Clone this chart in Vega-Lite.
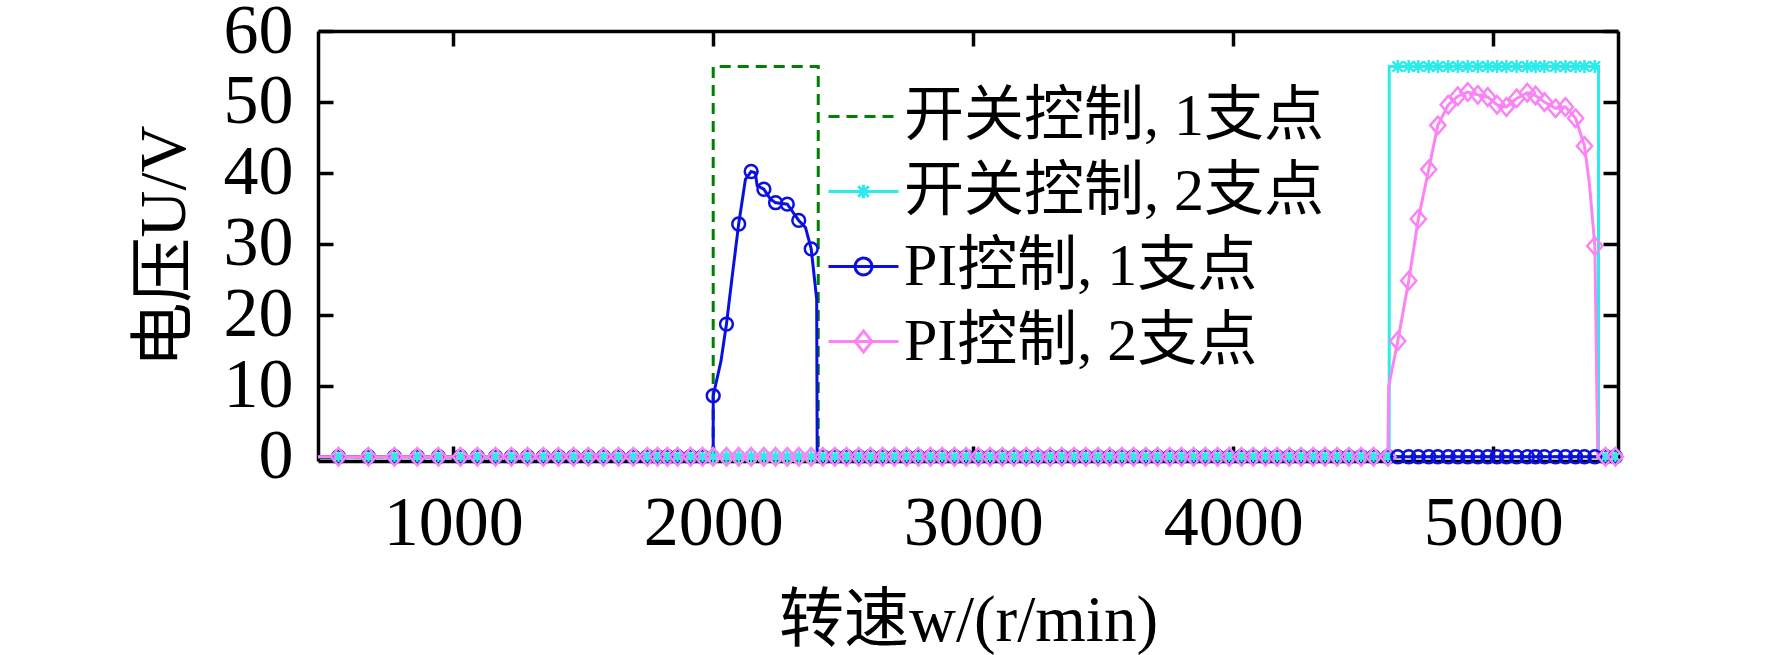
{
  "$schema": "https://vega.github.io/schema/vega-lite/v6.json",
  "width": 1300,
  "height": 430,
  "autosize": "none",
  "padding": {"left": 318, "top": 31, "right": 154, "bottom": 194},
  "background": "white",
  "config": {"view": {"stroke": null}, "font": "Liberation Serif"},
  "datasets": {
    "lines": [
      {"s": "开关控制, 1支点", "w": 480, "u": 0},
      {"s": "开关控制, 1支点", "w": 2000, "u": 0},
      {"s": "开关控制, 1支点", "w": 2000, "u": 55},
      {"s": "开关控制, 1支点", "w": 2404, "u": 55},
      {"s": "开关控制, 1支点", "w": 2404, "u": 0},
      {"s": "开关控制, 1支点", "w": 5480, "u": 0},
      {"s": "开关控制, 2支点", "w": 480, "u": 0},
      {"s": "开关控制, 2支点", "w": 4600, "u": 0},
      {"s": "开关控制, 2支点", "w": 4600, "u": 55},
      {"s": "开关控制, 2支点", "w": 5405, "u": 55},
      {"s": "开关控制, 2支点", "w": 5405, "u": 0},
      {"s": "开关控制, 2支点", "w": 5480, "u": 0},
      {"s": "PI控制, 1支点", "w": 480, "u": 0},
      {"s": "PI控制, 1支点", "w": 2000, "u": 0},
      {"s": "PI控制, 1支点", "w": 2000, "u": 8.6},
      {"s": "PI控制, 1支点", "w": 2030, "u": 13.5},
      {"s": "PI控制, 1支点", "w": 2051, "u": 18.7},
      {"s": "PI控制, 1支点", "w": 2073, "u": 25.4},
      {"s": "PI控制, 1支点", "w": 2098, "u": 32.8},
      {"s": "PI控制, 1支点", "w": 2124, "u": 39.1},
      {"s": "PI控制, 1支点", "w": 2146, "u": 40.2},
      {"s": "PI控制, 1支点", "w": 2162, "u": 40.0},
      {"s": "PI控制, 1支点", "w": 2169, "u": 38.2},
      {"s": "PI控制, 1支点", "w": 2195, "u": 37.7},
      {"s": "PI控制, 1支点", "w": 2220, "u": 36.3},
      {"s": "PI控制, 1支点", "w": 2240, "u": 35.8},
      {"s": "PI控制, 1支点", "w": 2285, "u": 35.6},
      {"s": "PI控制, 1支点", "w": 2329, "u": 33.3},
      {"s": "PI控制, 1支点", "w": 2355, "u": 32.3},
      {"s": "PI控制, 1支点", "w": 2377, "u": 29.3},
      {"s": "PI控制, 1支点", "w": 2398, "u": 22.2},
      {"s": "PI控制, 1支点", "w": 2400, "u": 0},
      {"s": "PI控制, 1支点", "w": 5480, "u": 0},
      {"s": "PI控制, 2支点", "w": 480, "u": 0},
      {"s": "PI控制, 2支点", "w": 4595, "u": 0},
      {"s": "PI控制, 2支点", "w": 4598, "u": 9.9},
      {"s": "PI控制, 2支点", "w": 4633, "u": 16.3},
      {"s": "PI控制, 2支点", "w": 4675, "u": 24.8},
      {"s": "PI控制, 2支点", "w": 4712, "u": 33.5},
      {"s": "PI控制, 2支点", "w": 4752, "u": 40.5},
      {"s": "PI控制, 2支点", "w": 4787, "u": 46.7},
      {"s": "PI控制, 2支点", "w": 4827, "u": 49.6},
      {"s": "PI控制, 2支点", "w": 4864, "u": 50.8},
      {"s": "PI控制, 2支点", "w": 4902, "u": 51.4},
      {"s": "PI控制, 2支点", "w": 4941, "u": 51.0},
      {"s": "PI控制, 2支点", "w": 4979, "u": 50.7},
      {"s": "PI控制, 2支点", "w": 5015, "u": 49.6},
      {"s": "PI控制, 2支点", "w": 5051, "u": 49.3},
      {"s": "PI控制, 2支点", "w": 5090, "u": 50.5},
      {"s": "PI控制, 2支点", "w": 5131, "u": 51.3},
      {"s": "PI控制, 2支点", "w": 5163, "u": 50.9},
      {"s": "PI控制, 2支点", "w": 5197, "u": 50.0},
      {"s": "PI控制, 2支点", "w": 5240, "u": 49.1},
      {"s": "PI控制, 2支点", "w": 5278, "u": 49.3},
      {"s": "PI控制, 2支点", "w": 5317, "u": 47.7},
      {"s": "PI控制, 2支点", "w": 5351, "u": 43.8},
      {"s": "PI控制, 2支点", "w": 5370, "u": 38.5},
      {"s": "PI控制, 2支点", "w": 5391, "u": 29.7},
      {"s": "PI控制, 2支点", "w": 5402, "u": 0},
      {"s": "PI控制, 2支点", "w": 5480, "u": 0}
    ],
    "markers": [
      {"w": 559, "开关控制, 2支点": 0, "PI控制, 1支点": 0, "PI控制, 2支点": 0},
      {"w": 674, "开关控制, 2支点": 0, "PI控制, 1支点": 0, "PI控制, 2支点": 0},
      {"w": 774, "开关控制, 2支点": 0, "PI控制, 1支点": 0, "PI控制, 2支点": 0},
      {"w": 862, "开关控制, 2支点": 0, "PI控制, 1支点": 0, "PI控制, 2支点": 0},
      {"w": 943, "开关控制, 2支点": 0, "PI控制, 1支点": 0, "PI控制, 2支点": 0},
      {"w": 1028, "开关控制, 2支点": 0, "PI控制, 1支点": 0, "PI控制, 2支点": 0},
      {"w": 1093, "开关控制, 2支点": 0, "PI控制, 1支点": 0, "PI控制, 2支点": 0},
      {"w": 1163, "开关控制, 2支点": 0, "PI控制, 1支点": 0, "PI控制, 2支点": 0},
      {"w": 1224, "开关控制, 2支点": 0, "PI控制, 1支点": 0, "PI控制, 2支点": 0},
      {"w": 1286, "开关控制, 2支点": 0, "PI控制, 1支点": 0, "PI控制, 2支点": 0},
      {"w": 1347, "开关控制, 2支点": 0, "PI控制, 1支点": 0, "PI控制, 2支点": 0},
      {"w": 1405, "开关控制, 2支点": 0, "PI控制, 1支点": 0, "PI控制, 2支点": 0},
      {"w": 1463, "开关控制, 2支点": 0, "PI控制, 1支点": 0, "PI控制, 2支点": 0},
      {"w": 1520, "开关控制, 2支点": 0, "PI控制, 1支点": 0, "PI控制, 2支点": 0},
      {"w": 1578, "开关控制, 2支点": 0, "PI控制, 1支点": 0, "PI控制, 2支点": 0},
      {"w": 1636, "开关控制, 2支点": 0, "PI控制, 1支点": 0, "PI控制, 2支点": 0},
      {"w": 1693, "开关控制, 2支点": 0, "PI控制, 1支点": 0, "PI控制, 2支点": 0},
      {"w": 1747, "开关控制, 2支点": 0, "PI控制, 1支点": 0, "PI控制, 2支点": 0},
      {"w": 1786, "开关控制, 2支点": 0, "PI控制, 1支点": 0, "PI控制, 2支点": 0},
      {"w": 1824, "开关控制, 2支点": 0, "PI控制, 1支点": 0, "PI控制, 2支点": 0},
      {"w": 1863, "开关控制, 2支点": 0, "PI控制, 1支点": 0, "PI控制, 2支点": 0},
      {"w": 1913, "开关控制, 2支点": 0, "PI控制, 1支点": 0, "PI控制, 2支点": 0},
      {"w": 1959, "开关控制, 2支点": 0, "PI控制, 1支点": 0, "PI控制, 2支点": 0},
      {"w": 2000, "开关控制, 2支点": 0, "PI控制, 1支点": 8.6, "PI控制, 2支点": 0},
      {"w": 2051, "开关控制, 2支点": 0, "PI控制, 1支点": 18.7, "PI控制, 2支点": 0},
      {"w": 2098, "开关控制, 2支点": 0, "PI控制, 1支点": 32.8, "PI控制, 2支点": 0},
      {"w": 2146, "开关控制, 2支点": 0, "PI控制, 1支点": 40.2, "PI控制, 2支点": 0},
      {"w": 2195, "开关控制, 2支点": 0, "PI控制, 1支点": 37.7, "PI控制, 2支点": 0},
      {"w": 2240, "开关控制, 2支点": 0, "PI控制, 1支点": 35.8, "PI控制, 2支点": 0},
      {"w": 2285, "开关控制, 2支点": 0, "PI控制, 1支点": 35.6, "PI控制, 2支点": 0},
      {"w": 2329, "开关控制, 2支点": 0, "PI控制, 1支点": 33.3, "PI控制, 2支点": 0},
      {"w": 2377, "开关控制, 2支点": 0, "PI控制, 1支点": 29.3, "PI控制, 2支点": 0},
      {"w": 2422, "开关控制, 2支点": 0, "PI控制, 1支点": 0, "PI控制, 2支点": 0},
      {"w": 2468, "开关控制, 2支点": 0, "PI控制, 1支点": 0, "PI控制, 2支点": 0},
      {"w": 2513, "开关控制, 2支点": 0, "PI控制, 1支点": 0, "PI控制, 2支点": 0},
      {"w": 2560, "开关控制, 2支点": 0, "PI控制, 1支点": 0, "PI控制, 2支点": 0},
      {"w": 2605, "开关控制, 2支点": 0, "PI控制, 1支点": 0, "PI控制, 2支点": 0},
      {"w": 2652, "开关控制, 2支点": 0, "PI控制, 1支点": 0, "PI控制, 2支点": 0},
      {"w": 2697, "开关控制, 2支点": 0, "PI控制, 1支点": 0, "PI控制, 2支点": 0},
      {"w": 2744, "开关控制, 2支点": 0, "PI控制, 1支点": 0, "PI控制, 2支点": 0},
      {"w": 2789, "开关控制, 2支点": 0, "PI控制, 1支点": 0, "PI控制, 2支点": 0},
      {"w": 2836, "开关控制, 2支点": 0, "PI控制, 1支点": 0, "PI控制, 2支点": 0},
      {"w": 2881, "开关控制, 2支点": 0, "PI控制, 1支点": 0, "PI控制, 2支点": 0},
      {"w": 2928, "开关控制, 2支点": 0, "PI控制, 1支点": 0, "PI控制, 2支点": 0},
      {"w": 2973, "开关控制, 2支点": 0, "PI控制, 1支点": 0, "PI控制, 2支点": 0},
      {"w": 3020, "开关控制, 2支点": 0, "PI控制, 1支点": 0, "PI控制, 2支点": 0},
      {"w": 3065, "开关控制, 2支点": 0, "PI控制, 1支点": 0, "PI控制, 2支点": 0},
      {"w": 3112, "开关控制, 2支点": 0, "PI控制, 1支点": 0, "PI控制, 2支点": 0},
      {"w": 3157, "开关控制, 2支点": 0, "PI控制, 1支点": 0, "PI控制, 2支点": 0},
      {"w": 3204, "开关控制, 2支点": 0, "PI控制, 1支点": 0, "PI控制, 2支点": 0},
      {"w": 3249, "开关控制, 2支点": 0, "PI控制, 1支点": 0, "PI控制, 2支点": 0},
      {"w": 3296, "开关控制, 2支点": 0, "PI控制, 1支点": 0, "PI控制, 2支点": 0},
      {"w": 3341, "开关控制, 2支点": 0, "PI控制, 1支点": 0, "PI控制, 2支点": 0},
      {"w": 3388, "开关控制, 2支点": 0, "PI控制, 1支点": 0, "PI控制, 2支点": 0},
      {"w": 3433, "开关控制, 2支点": 0, "PI控制, 1支点": 0, "PI控制, 2支点": 0},
      {"w": 3480, "开关控制, 2支点": 0, "PI控制, 1支点": 0, "PI控制, 2支点": 0},
      {"w": 3525, "开关控制, 2支点": 0, "PI控制, 1支点": 0, "PI控制, 2支点": 0},
      {"w": 3572, "开关控制, 2支点": 0, "PI控制, 1支点": 0, "PI控制, 2支点": 0},
      {"w": 3617, "开关控制, 2支点": 0, "PI控制, 1支点": 0, "PI控制, 2支点": 0},
      {"w": 3664, "开关控制, 2支点": 0, "PI控制, 1支点": 0, "PI控制, 2支点": 0},
      {"w": 3709, "开关控制, 2支点": 0, "PI控制, 1支点": 0, "PI控制, 2支点": 0},
      {"w": 3756, "开关控制, 2支点": 0, "PI控制, 1支点": 0, "PI控制, 2支点": 0},
      {"w": 3801, "开关控制, 2支点": 0, "PI控制, 1支点": 0, "PI控制, 2支点": 0},
      {"w": 3848, "开关控制, 2支点": 0, "PI控制, 1支点": 0, "PI控制, 2支点": 0},
      {"w": 3893, "开关控制, 2支点": 0, "PI控制, 1支点": 0, "PI控制, 2支点": 0},
      {"w": 3940, "开关控制, 2支点": 0, "PI控制, 1支点": 0, "PI控制, 2支点": 0},
      {"w": 3985, "开关控制, 2支点": 0, "PI控制, 1支点": 0, "PI控制, 2支点": 0},
      {"w": 4032, "开关控制, 2支点": 0, "PI控制, 1支点": 0, "PI控制, 2支点": 0},
      {"w": 4077, "开关控制, 2支点": 0, "PI控制, 1支点": 0, "PI控制, 2支点": 0},
      {"w": 4124, "开关控制, 2支点": 0, "PI控制, 1支点": 0, "PI控制, 2支点": 0},
      {"w": 4169, "开关控制, 2支点": 0, "PI控制, 1支点": 0, "PI控制, 2支点": 0},
      {"w": 4216, "开关控制, 2支点": 0, "PI控制, 1支点": 0, "PI控制, 2支点": 0},
      {"w": 4261, "开关控制, 2支点": 0, "PI控制, 1支点": 0, "PI控制, 2支点": 0},
      {"w": 4308, "开关控制, 2支点": 0, "PI控制, 1支点": 0, "PI控制, 2支点": 0},
      {"w": 4353, "开关控制, 2支点": 0, "PI控制, 1支点": 0, "PI控制, 2支点": 0},
      {"w": 4400, "开关控制, 2支点": 0, "PI控制, 1支点": 0, "PI控制, 2支点": 0},
      {"w": 4445, "开关控制, 2支点": 0, "PI控制, 1支点": 0, "PI控制, 2支点": 0},
      {"w": 4492, "开关控制, 2支点": 0, "PI控制, 1支点": 0, "PI控制, 2支点": 0},
      {"w": 4540, "开关控制, 2支点": 0, "PI控制, 1支点": 0, "PI控制, 2支点": 0},
      {"w": 4595, "开关控制, 2支点": 0, "PI控制, 1支点": 0, "PI控制, 2支点": 0},
      {"w": 4633, "开关控制, 2支点": 55, "PI控制, 1支点": 0, "PI控制, 2支点": 16.3},
      {"w": 4675, "开关控制, 2支点": 55, "PI控制, 1支点": 0, "PI控制, 2支点": 24.8},
      {"w": 4712, "开关控制, 2支点": 55, "PI控制, 1支点": 0, "PI控制, 2支点": 33.5},
      {"w": 4752, "开关控制, 2支点": 55, "PI控制, 1支点": 0, "PI控制, 2支点": 40.5},
      {"w": 4787, "开关控制, 2支点": 55, "PI控制, 1支点": 0, "PI控制, 2支点": 46.7},
      {"w": 4827, "开关控制, 2支点": 55, "PI控制, 1支点": 0, "PI控制, 2支点": 49.6},
      {"w": 4864, "开关控制, 2支点": 55, "PI控制, 1支点": 0, "PI控制, 2支点": 50.8},
      {"w": 4902, "开关控制, 2支点": 55, "PI控制, 1支点": 0, "PI控制, 2支点": 51.4},
      {"w": 4941, "开关控制, 2支点": 55, "PI控制, 1支点": 0, "PI控制, 2支点": 51.0},
      {"w": 4979, "开关控制, 2支点": 55, "PI控制, 1支点": 0, "PI控制, 2支点": 50.7},
      {"w": 5015, "开关控制, 2支点": 55, "PI控制, 1支点": 0, "PI控制, 2支点": 49.6},
      {"w": 5051, "开关控制, 2支点": 55, "PI控制, 1支点": 0, "PI控制, 2支点": 49.3},
      {"w": 5090, "开关控制, 2支点": 55, "PI控制, 1支点": 0, "PI控制, 2支点": 50.5},
      {"w": 5131, "开关控制, 2支点": 55, "PI控制, 1支点": 0, "PI控制, 2支点": 51.3},
      {"w": 5163, "开关控制, 2支点": 55, "PI控制, 1支点": 0, "PI控制, 2支点": 50.9},
      {"w": 5197, "开关控制, 2支点": 55, "PI控制, 1支点": 0, "PI控制, 2支点": 50.0},
      {"w": 5240, "开关控制, 2支点": 55, "PI控制, 1支点": 0, "PI控制, 2支点": 49.1},
      {"w": 5278, "开关控制, 2支点": 55, "PI控制, 1支点": 0, "PI控制, 2支点": 49.3},
      {"w": 5317, "开关控制, 2支点": 55, "PI控制, 1支点": 0, "PI控制, 2支点": 47.7},
      {"w": 5351, "开关控制, 2支点": 55, "PI控制, 1支点": 0, "PI控制, 2支点": 43.8},
      {"w": 5391, "开关控制, 2支点": 55, "PI控制, 1支点": 0, "PI控制, 2支点": 29.7},
      {"w": 5432, "开关控制, 2支点": 0, "PI控制, 1支点": 0, "PI控制, 2支点": 0},
      {"w": 5470, "开关控制, 2支点": 0, "PI控制, 1支点": 0, "PI控制, 2支点": 0}
    ]
  },
  "layer": [
    {
      "data": {"name": "lines"},
      "mark": {"type": "line", "strokeWidth": 3, "clip": true},
      "encoding": {
        "x": {
          "field": "w", "type": "quantitative",
          "scale": {"domain": [480, 5480], "nice": false, "zero": false},
          "axis": {
            "orient": "bottom", "values": [1000, 2000, 3000, 4000, 5000], "format": "d",
            "grid": false, "domainColor": "black", "domainWidth": 3.5,
            "tickColor": "black", "tickWidth": 3.5, "tickSize": -15,
            "labelFont": "Liberation Serif", "labelFontSize": 70, "labelColor": "black",
            "labelPadding": 43, "labelBaseline": "top", "labelFlush": false, "labelOverlap": false,
            "title": "转速w/(r/min)", "titleFont": "Liberation Serif, Noto Sans CJK SC",
            "titleFontSize": 65, "titleFontWeight": "normal", "titleColor": "black",
            "titleX": 650, "titleY": 159, "titleAlign": "center", "titleBaseline": "middle"
          }
        },
        "y": {
          "field": "u", "type": "quantitative",
          "scale": {"domain": [-0.6, 60], "nice": false, "zero": false},
          "axis": {
            "orient": "left", "values": [0, 10, 20, 30, 40, 50, 60], "format": "d",
            "grid": false, "domainColor": "black", "domainWidth": 3.5,
            "tickColor": "black", "tickWidth": 3.5, "tickSize": -15,
            "labelFont": "Liberation Serif", "labelFontSize": 70, "labelColor": "black",
            "labelPadding": 40, "labelFlush": false, "labelOverlap": false,
            "title": "电压U/V", "titleFont": "Liberation Serif, Noto Sans CJK SC",
            "titleFontSize": 65, "titleFontWeight": "normal", "titleColor": "black",
            "titleX": -154, "titleY": 215, "titleAngle": -90, "titleAlign": "center", "titleBaseline": "middle"
          }
        },
        "color": {
          "field": "s", "type": "nominal",
          "scale": {
            "domain": ["开关控制, 1支点", "开关控制, 2支点", "PI控制, 1支点", "PI控制, 2支点"],
            "range": ["#008000", "#2CEBEB", "#0A10E0", "#FA84F4"]
          },
          "legend": {
            "orient": "none", "legendX": 509, "legendY": 49, "direction": "vertical",
            "title": null, "padding": 0,
            "labelFont": "Liberation Serif, Noto Sans CJK SC", "labelFontSize": 60,
            "labelColor": "black", "labelLimit": 1000, "labelOffset": 4,
            "symbolSize": 4900, "rowPadding": 8,
            "encode": {
              "symbols": {
                "update": {
                  "shape": {"signal": "datum.value === '开关控制, 1支点' ? 'M-1,0H1' : datum.value === '开关控制, 2支点' ? 'M-1,0H1M-0.15,-0.15L0.15,0.15M-0.15,0.15L0.15,-0.15M0,-0.19V0.19' : datum.value === 'PI控制, 1支点' ? 'M-1,0H1M0.24,0A0.24,0.24 0 1,1 -0.24,0A0.24,0.24 0 1,1 0.24,0Z' : 'M-1,0H1M0,-0.3L0.24,0L0,0.3L-0.24,0Z'"},
                  "strokeDash": {"signal": "datum.value === '开关控制, 1支点' ? [11, 7] : [1, 0]"},
                  "fill": {"value": "transparent"},
                  "strokeWidth": {"value": 3}
                }
              }
            }
          }
        },
        "strokeDash": {
          "field": "s", "type": "nominal",
          "scale": {
            "domain": ["开关控制, 1支点", "开关控制, 2支点", "PI控制, 1支点", "PI控制, 2支点"],
            "range": [[11, 7], [1, 0], [1, 0], [1, 0]]
          },
          "legend": null
        }
      }
    },
    {
      "data": {"name": "markers"},
      "transform": [{"fold": ["开关控制, 2支点", "PI控制, 1支点", "PI控制, 2支点"], "as": ["s", "u"]}],
      "mark": {"type": "point", "filled": false, "strokeWidth": 2.5, "size": 256, "opacity": 1},
      "encoding": {
        "x": {
          "field": "w", "type": "quantitative",
          "scale": {"domain": [480, 5480], "nice": false, "zero": false},
          "axis": {
            "orient": "top", "values": [1000, 2000, 3000, 4000, 5000], "labels": false,
            "grid": false, "domainColor": "black", "domainWidth": 3.5,
            "tickColor": "black", "tickWidth": 3.5, "tickSize": -15, "title": null
          }
        },
        "y": {
          "field": "u", "type": "quantitative",
          "scale": {"domain": [-0.6, 60], "nice": false, "zero": false},
          "axis": {
            "orient": "right", "values": [0, 10, 20, 30, 40, 50, 60], "labels": false,
            "grid": false, "domainColor": "black", "domainWidth": 3.5,
            "tickColor": "black", "tickWidth": 3.5, "tickSize": -15, "title": null
          }
        },
        "color": {"field": "s", "type": "nominal"},
        "shape": {
          "field": "s", "type": "nominal",
          "scale": {
            "domain": ["开关控制, 2支点", "PI控制, 1支点", "PI控制, 2支点"],
            "range": [
              "M-0.65,-0.65L0.65,0.65M-0.65,0.65L0.65,-0.65M0,-0.8V0.8",
              "M0.8,0A0.8,0.8 0 1,1 -0.8,0A0.8,0.8 0 1,1 0.8,0Z",
              "M0,-1.1L0.95,0L0,1.1L-0.95,0Z"
            ]
          },
          "legend": null
        }
      }
    }
  ],
  "resolve": {"axis": {"x": "independent", "y": "independent"}}
}
